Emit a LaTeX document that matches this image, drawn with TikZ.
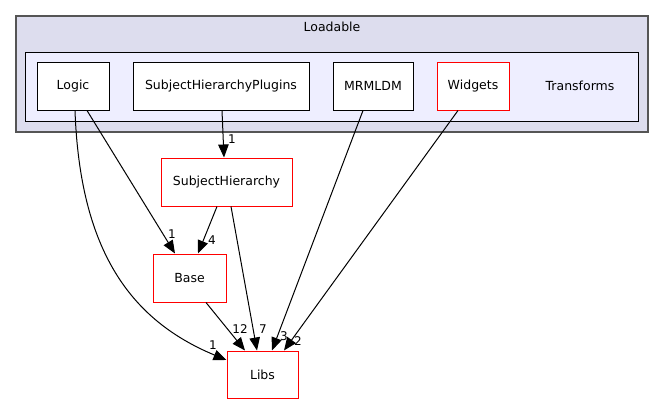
\documentclass[tikz,border=0pt]{standalone}
\usepackage{fontspec}
\setmainfont{DejaVu Sans}
\usetikzlibrary{arrows.meta}
\definecolor{clusterout}{HTML}{DDDDEE}
\definecolor{clusterin}{HTML}{EEEEFF}
\definecolor{clusterborder}{HTML}{555555}
\tikzset{
  nodefont/.style={font=\fontsize{12.5bp}{15bp}\selectfont},
  lblfont/.style={font=\fontsize{12bp}{14bp}\selectfont},
  dirbox/.style={draw=black, fill=white, line width=1bp, minimum height=48bp, inner sep=0pt, nodefont},
  redbox/.style={dirbox, draw=red},
  outercluster/.style={draw=clusterborder, fill=clusterout, line width=2bp, inner sep=0pt},
  innercluster/.style={draw=black, fill=clusterin, line width=1bp, inner sep=0pt},
  edge/.style={draw=black, line width=1bp, -{Triangle[length=13bp,width=10.5bp]}},
  lbl/.style={inner sep=0pt, lblfont},
}
\begin{document}
\begin{tikzpicture}[x=1bp,y=-1bp]
\useasboundingbox (0,0) rectangle (664,404);
% clusters
\node[outercluster, minimum width=632bp, minimum height=116bp] (loadable) at (332,74) {};
\node[nodefont, inner sep=0pt] (loadabletxt) at (332,27) {Loadable};
\node[innercluster, minimum width=612bp, minimum height=69bp] (transforms) at (332,86.5) {};
\node[nodefont, inner sep=0pt] (transformstxt) at (580,86) {Transforms};
% nodes
\node[dirbox, minimum width=72bp] (logic) at (73,86) {Logic};
\node[dirbox, minimum width=176bp] (shp) at (221,86) {SubjectHierarchyPlugins};
\node[dirbox, minimum width=80bp] (mrmldm) at (373,86) {MRMLDM};
\node[redbox, minimum width=72bp] (widgets) at (473,86) {Widgets};
\node[redbox, minimum width=131bp] (sh) at (226.5,182) {SubjectHierarchy};
\node[redbox, minimum width=73bp] (base) at (189.5,278) {Base};
\node[redbox, minimum width=71bp, minimum height=47bp] (libs) at (262.5,374.5) {Libs};
% edges
\draw[edge] ([xshift=14bp]logic.south) -- ([xshift=-14.5bp]base.north);
\draw[edge] ([xshift=2bp]logic.south) .. controls (80,250) and (130,320) .. ([yshift=14.5bp]libs.west);
\draw[edge] ([xshift=1bp]shp.south) -- ([xshift=-2.5bp]sh.north);
\draw[edge] ([xshift=-9.5bp]sh.south) -- ([xshift=8.5bp]base.north);
\draw[edge] ([xshift=4.5bp]sh.south) -- ([xshift=-5.5bp]libs.north);
\draw[edge] ([xshift=16.5bp]base.south) -- ([xshift=-17.5bp]libs.north);
\draw[edge] ([xshift=-10bp]mrmldm.south) -- ([xshift=9.5bp]libs.north);
\draw[edge] ([xshift=-15bp]widgets.south) -- ([xshift=21.5bp]libs.north);
% labels
\node[lbl] (lshp) at (232,139) {1};
\node[lbl] (llogicbase) at (172,234) {1};
\node[lbl] (lshbase) at (212,240) {4};
\node[lbl] (llogiclibs) at (213,345) {1};
\node[lbl] (lbaselibs) at (240,329) {12};
\node[lbl] (lshlibs) at (263,329) {7};
\node[lbl] (lmrml) at (284,336) {3};
\node[lbl] (lwid) at (298,341) {2};
\end{tikzpicture}
\end{document}
